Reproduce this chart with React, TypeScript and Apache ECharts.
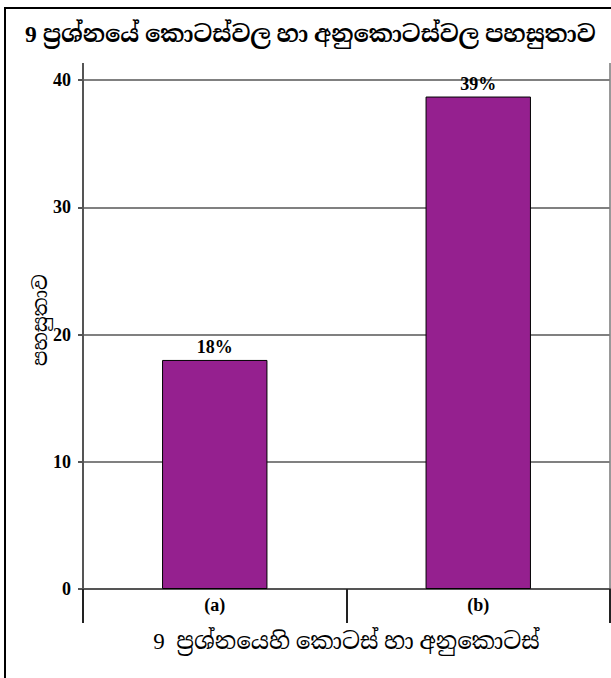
import React, { useEffect, useRef } from "react";
import * as echarts from "echarts";

const titleText = "9 ප්‍රශ්නයේ කොටස්වල හා අනුකොටස්වල පහසුතාව";
const xAxisName = "9  ප්‍රශ්නයෙහි කොටස් හා අනුකොටස්";
const yAxisName = "පහසුතාව";
const categories = ["(a)", "(b)"];
const values = [18.0, 38.7];
const barLabels = ["18%", "39%"];
const yTicks = { min: 0, max: 40, interval: 10 };

const FONT = "'Liberation Serif', 'Times New Roman', 'Noto Serif Sinhala', 'Noto Sans Sinhala', serif";

export default function App() {
  const ref = useRef<HTMLDivElement>(null);
  useEffect(() => {
    if (!ref.current) return;
    const chart = echarts.init(ref.current, null, { renderer: "svg" });
    chart.setOption({
      animation: false,
      backgroundColor: "#ffffff",
      title: {
        text: titleText,
        left: 20,
        top: 17,
        textStyle: { fontFamily: FONT, fontSize: 23.5, fontWeight: "bold", color: "#000" },
      },
      grid: { left: 83, right: 1, top: 80, bottom: 89, containLabel: false },
      xAxis: {
        type: "category",
        data: categories,
        name: xAxisName,
        nameLocation: "middle",
        nameGap: 41,
        nameTextStyle: { fontFamily: FONT, fontSize: 23, color: "#000" },
        axisLine: { show: true, lineStyle: { color: "#555", width: 2 } },
        axisTick: { show: true, length: 34, lineStyle: { color: "#222", width: 2 } },
        axisLabel: { fontFamily: FONT, fontSize: 18, fontWeight: "bold", color: "#000", margin: 7 },
      },
      yAxis: {
        type: "value",
        min: yTicks.min,
        max: yTicks.max,
        interval: yTicks.interval,
        axisLine: { show: true, lineStyle: { color: "#555", width: 2 } },
        axisTick: { show: true, length: 5, lineStyle: { color: "#555", width: 2 } },
        axisLabel: { fontFamily: FONT, fontSize: 18, fontWeight: "bold", color: "#000", margin: 12 },
        splitLine: { show: true, lineStyle: { color: "#808080", width: 2 } },
      },
      series: [
        {
          type: "bar",
          data: values,
          barWidth: "40%",
          itemStyle: { color: "#95208F", borderColor: "#000", borderWidth: 1 },
          label: {
            show: true,
            position: "top",
            distance: 4,
            formatter: (p: any) => barLabels[p.dataIndex],
            fontFamily: FONT,
            fontSize: 18,
            fontWeight: "bold",
            color: "#000",
          },
        },
      ],
      graphic: [
        {
          type: "rect",
          shape: { x: 5, y: 8, width: 800, height: 800 },
          style: { fill: "none", stroke: "#000", lineWidth: 2 },
          silent: true,
        },
        {
          type: "line",
          shape: { x1: 83, y1: 63, x2: 83, y2: 81 },
          style: { stroke: "#555", lineWidth: 2 },
          silent: true,
        },
        {
          type: "line",
          shape: { x1: 610, y1: 63, x2: 610, y2: 589 },
          style: { stroke: "#999", lineWidth: 2 },
          silent: true,
        },
        {
          type: "line",
          shape: { x1: 83, y1: 589, x2: 83, y2: 623 },
          style: { stroke: "#555", lineWidth: 2 },
          silent: true,
        },
        {
          type: "text",
          x: 40,
          y: 320,
          rotation: Math.PI / 2,
          style: {
            text: yAxisName,
            fontFamily: FONT,
            fontSize: 20,
            fill: "#000",
            align: "center",
            verticalAlign: "middle",
          },
          silent: true,
        },
      ],
    });
    return () => chart.dispose();
  }, []);
  return (
    <div
      ref={ref}
      style={{ position: "fixed", left: 0, top: 0, width: 611, height: 678 }}
    />
  );
}
